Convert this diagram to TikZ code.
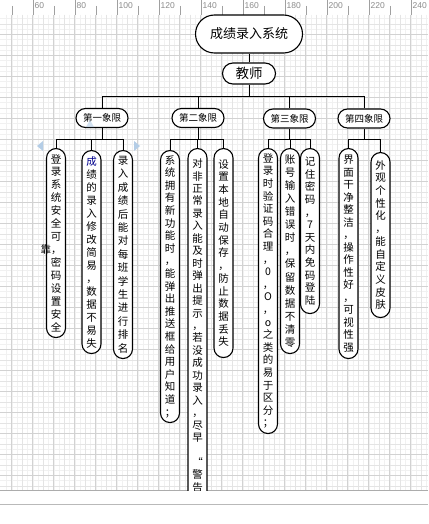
\documentclass[tikz,border=0pt]{standalone}
\usepackage{fontspec}
\newfontfamily\cjk{Noto Sans CJK SC}
\newfontfamily\rulerf{Liberation Sans}
\definecolor{gridmaj}{HTML}{D2D2D2}
\definecolor{gridmin}{HTML}{E4E4E4}
\definecolor{gridfine}{HTML}{F1F1F1}
\definecolor{handle}{HTML}{B4CDE6}
\definecolor{rulertick}{HTML}{A0A0A0}
\definecolor{rulertext}{HTML}{8C8C8C}
\begin{document}
\begin{tikzpicture}[x=1pt,y=-1pt,
  conn/.style={draw=black, line width=0.9pt},
  pill/.style={draw=black, line width=1.1pt, fill=white, inner sep=0pt},
  rootbox/.style={pill, rounded corners=19pt, minimum width=107pt, minimum height=38pt, font=\cjk\fontsize{13}{15}\selectfont},
  teacherbox/.style={pill, rounded corners=10.5pt, minimum width=53pt, minimum height=21pt, font=\cjk\fontsize{13.5}{15}\selectfont},
  quadbox/.style={pill, rounded corners=9.5pt, minimum width=52pt, minimum height=19pt, font=\cjk\fontsize{9.5}{11}\selectfont},
  vbox/.style 2 args={pill, rounded corners=9.5pt, minimum width=19pt, minimum height=#2, anchor=north, align=center, font=\cjk\fontsize{10.5}{#1}\selectfont},
  rulerlabel/.style={anchor=north west, inner sep=0pt, text=rulertext, font=\rulerf\fontsize{8.5}{10}\selectfont},
]
\useasboundingbox (0,0) rectangle (428,524);
\fill[white] (0,0) rectangle (428,524);
% ---------- grid ----------
\begin{scope}
\clip (0,15) rectangle (428,490);
\foreach \k in {0,...,81} \draw[gridfine, line width=0.4pt] ({6.45+5.25*\k},15) -- ++(0,475);
\foreach \k in {0,...,91} \draw[gridfine, line width=0.4pt] (0,{8.05+5.25*\k}) -- ++(428,0);
\foreach \k in {0,...,19} \draw[gridmin, line width=0.5pt] ({22.2+21*\k},15) -- ++(0,475);
\foreach \k in {0,...,22} \draw[gridmin, line width=0.5pt] (0,{23.8+21*\k}) -- ++(428,0);
\foreach \k in {0,...,20} \draw[gridmaj, line width=0.6pt] ({11.7+21*\k},15) -- ++(0,475);
\foreach \k in {0,...,23} \draw[gridmaj, line width=0.6pt] (0,{13.3+21*\k}) -- ++(428,0);
\end{scope}
% ---------- ruler ----------
\fill[white] (0,0) rectangle (428,14.5);
\draw[rulertick, line width=0.5pt] (-9,0) -- (-9,15);
\foreach \k/\lab in {0/60,1/80,2/100,3/120,4/140,5/160,6/180,7/200,8/220,9/240} {
  \draw[rulertick, line width=0.5pt] ({33+42*\k},0) -- ({33+42*\k},15);
  \node[rulerlabel] at ({34.5+42*\k},2.5) {\lab};
}
\foreach \k in {0,...,9} \draw[rulertick, line width=0.5pt] ({12+42*\k},6) -- ({12+42*\k},15);
% ---------- bottom band ----------
\fill[white] (0,490) rectangle (428,524);
\draw[gray!65, line width=0.8pt] (0,490) -- (428,490);
\draw[gray!55, line width=0.7pt] (0,504) -- (428,504);
% ---------- diagram ----------
\begin{scope}
\clip (0,15) rectangle (428,490);
\node[rootbox] (root) at (249,34) {成绩录入系统};
\node[teacherbox] (teacher) at (249,73.5) {教师};
\node[quadbox] (q1) at (102,118) {第一象限};
\node[quadbox] (q2) at (198,118) {第二象限};
\node[quadbox] (q3) at (289.5,118.5) {第三象限};
\node[quadbox] (q4) at (364,118.5) {第四象限};

\node[vbox={12.95}{189}] (c11) at (56,148) {登\\录\\系\\统\\安\\全\\可\\\makebox[0pt]{靠，\hspace{10pt}}\\密\\码\\设\\置\\安\\全};
\node[vbox={13.0}{203}] (c12) at (91.5,150) {\textcolor{blue!55!black}{成}\\绩\\的\\录\\入\\修\\改\\简\\易\\，\\数\\据\\不\\易\\失};
\node[vbox={13.4}{208}] (c13) at (123,150) {录\\入\\成\\绩\\后\\能\\对\\每\\班\\学\\生\\进\\行\\排\\名};

\node[vbox={12.6}{272}] (c21) at (170,150) {系\\统\\拥\\有\\新\\功\\能\\时\\，\\能\\弹\\出\\推\\送\\框\\给\\用\\户\\知\\道\\；};
\node[vbox={12.45}{354}] (c22) at (197.5,148) {对\\非\\正\\常\\录\\入\\能\\及\\时\\弹\\出\\提\\示\\，\\若\\没\\成\\功\\录\\入\\，\\尽\\早\\\mbox{}\\“\\警\\告};
\node[vbox={12.7}{209}] (c23) at (223.5,148) {设\\置\\本\\地\\自\\动\\保\\存\\，\\防\\止\\数\\据\\丢\\失};

\node[vbox={12.6}{285}] (c31) at (268,148) {登\\录\\时\\验\\证\\码\\合\\理\\，\\0\\，\\O\\，\\o\\之\\类\\的\\易\\于\\区\\分\\；};
\node[vbox={13.1}{205}] (c32) at (290,148) {账\\号\\输\\入\\错\\误\\时\\，\\保\\留\\数\\据\\不\\清\\零};
\node[vbox={12.6}{165}] (c33) at (310,148) {记\\住\\密\\码\\，\\7\\天\\内\\免\\码\\登\\陆};

\node[vbox={12.5}{210}] (c41) at (348.5,148) {界\\面\\干\\净\\整\\洁\\，\\操\\作\\性\\好\\，\\可\\视\\性\\强};
\node[vbox={12.7}{165}] (c42) at (380.5,152) {外\\观\\个\\性\\化\\，\\能\\自\\定\\义\\皮\\肤};

\coordinate (tb) at (249,96);
\coordinate (g1) at (102,139);
\coordinate (g2) at (198,139);
\coordinate (g3) at (289.5,139);
\coordinate (g4) at (364,139);
\draw[conn] (root) -- (teacher);
\draw[conn] (teacher) -- (tb);
\draw[conn] (tb) -| (q1.north);
\draw[conn] (tb) -| (q2.north);
\draw[conn] (tb) -| (q3.north);
\draw[conn] (tb) -| (q4.north);
\draw[conn] (q1) -- (g1);
\draw[conn] (g1) -| (c11.north);
\draw[conn] (g1) -| (c12.north);
\draw[conn] (g1) -| (c13.north);
\draw[conn] (q2) -- (g2);
\draw[conn] (g2) -| (c21.north);
\draw[conn] (g2) -| (c22.north);
\draw[conn] (g2) -| (c23.north);
\draw[conn] (q3) -- (g3);
\draw[conn] (g3) -| (c31.north);
\draw[conn] (g3) -| (c32.north);
\draw[conn] (g3) -| (c33.north);
\draw[conn] (q4) -- (g4);
\draw[conn] (g4) -| (c41.north);
\draw[conn] (g4) -| (c42.north);

% selection handles
\fill[handle] (43,141) -- (37,146) -- (43,151) -- cycle;
\fill[handle] (134,141) -- (140,146) -- (134,151) -- cycle;
\fill[handle, opacity=0.6] (90,120) -- (86,127) -- (94,127) -- cycle;
\end{scope}
\end{tikzpicture}
\end{document}
